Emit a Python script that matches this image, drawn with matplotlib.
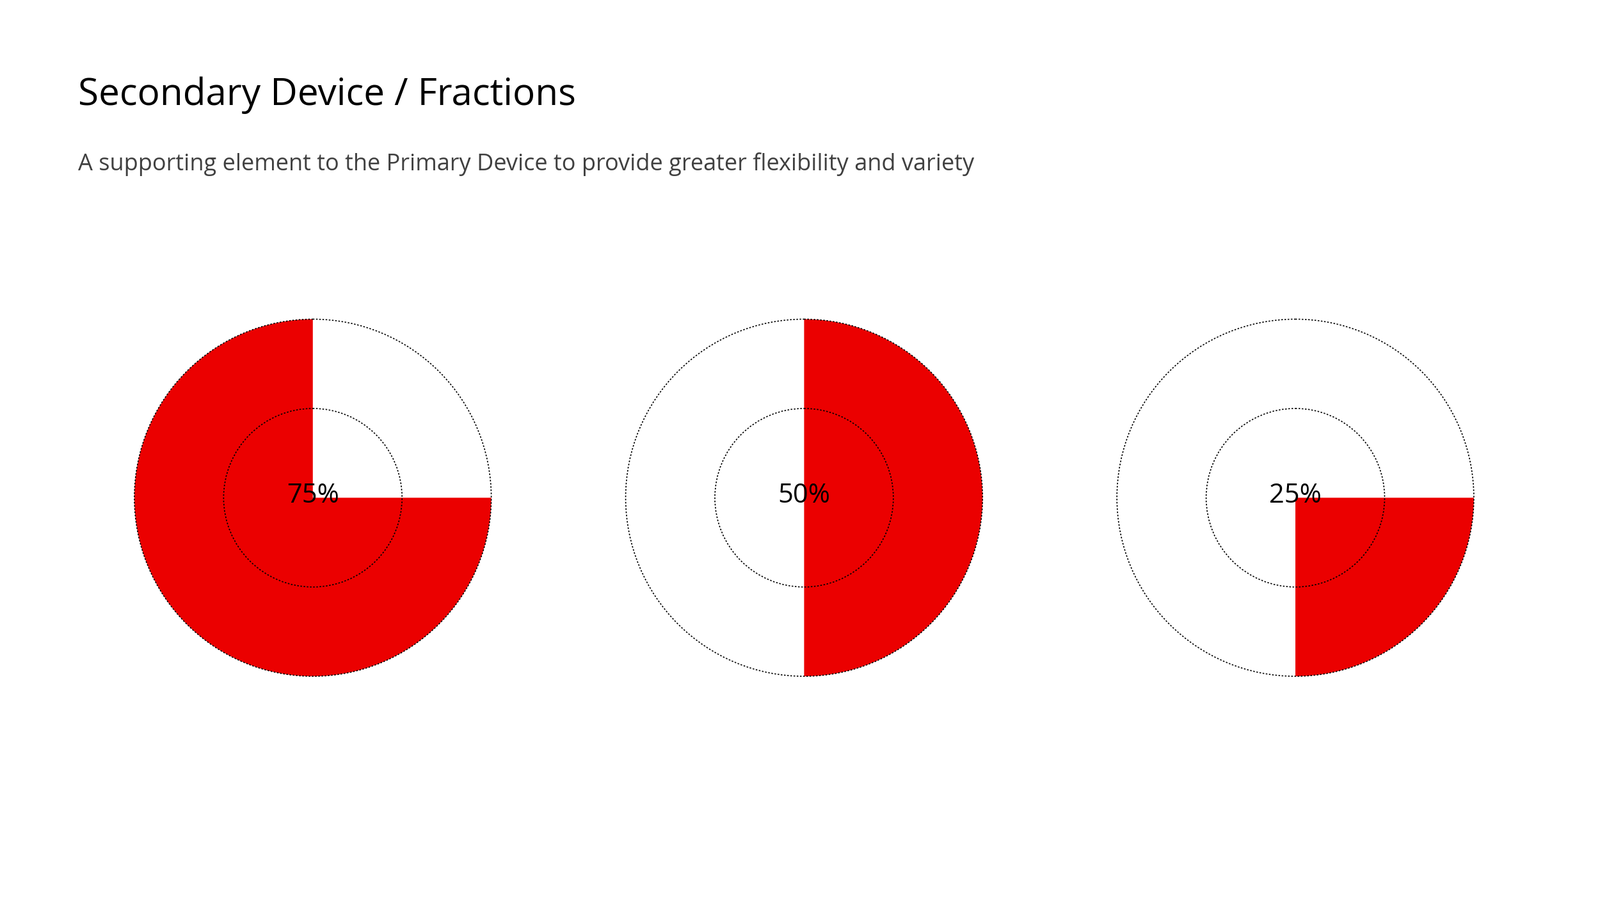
import matplotlib
matplotlib.use("Agg")
import matplotlib.pyplot as plt
from matplotlib.patches import Wedge, Circle

labels = ["75%", "50%", "25%"]
values = [75, 50, 25]
start_angles = [90, -90, -90]

W, H = 1560, 876
fig = plt.figure(figsize=(25, 14.04), dpi=100)
ax = fig.add_axes([0, 0, 1, 1])
ax.set_xlim(0, W)
ax.set_ylim(H, 0)
ax.set_aspect("equal")
ax.axis("off")

centers_x = [305, 784, 1263]
cy, R, r = 485, 174, 87
for cx, v, s, lab in zip(centers_x, values, start_angles, labels):
    # y axis inverted: convert angles
    w = Wedge((cx, cy), R, -(s + 360 * v / 100), -s, facecolor="#EB0000", edgecolor="none")
    ax.add_patch(w)
    ax.add_patch(Circle((cx, cy), R, fill=False, edgecolor="black", lw=1.2, ls=(0, (1.5, 1.5))))
    ax.add_patch(Circle((cx, cy), r, fill=False, edgecolor="black", lw=1.2, ls=(0, (1.5, 1.5))))
    ax.text(cx, cy - 2, lab, ha="center", va="center", fontsize=30, family="Open Sans", color="black")

ax.text(76, 93, "Secondary Device / Fractions", fontsize=42, family="Open Sans", va="center", color="black")
ax.text(76, 160, "A supporting element to the Primary Device to provide greater flexibility and variety",
        fontsize=26, family="Open Sans", va="center", color="#404040")
fig.savefig("out.png", dpi=100)
